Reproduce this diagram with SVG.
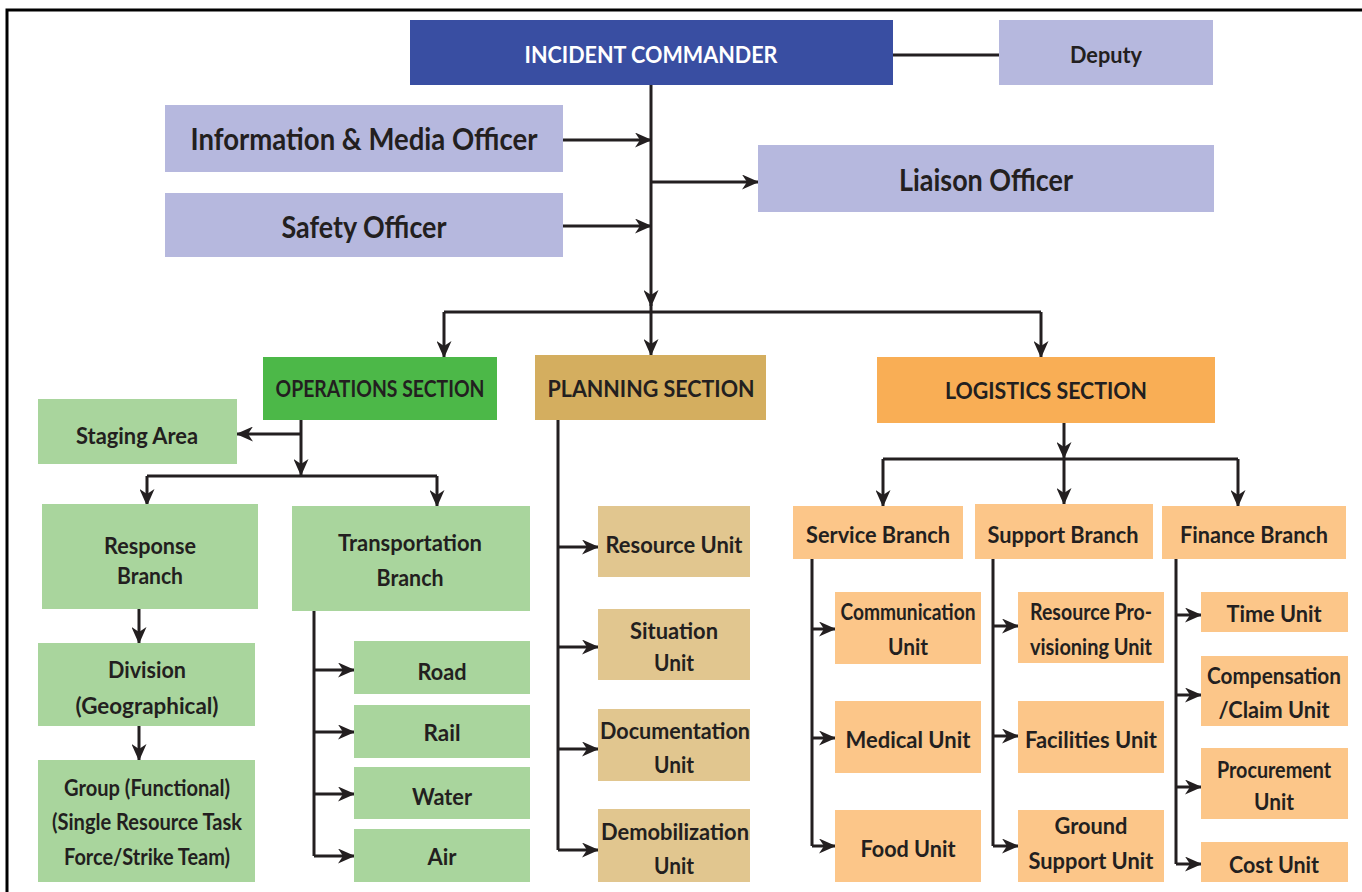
<svg xmlns="http://www.w3.org/2000/svg" width="1362" height="892" viewBox="0 0 1362 892">
<defs>
<marker id="ah" markerUnits="userSpaceOnUse" markerWidth="17" markerHeight="15" refX="16" refY="7.5" orient="auto">
<path d="M0,0 L17,7.5 L0,15 L5,7.5 z" fill="#231F20"/>
</marker>
<style>
.t{font-family:Lato,"Liberation Sans",sans-serif;fill:#231F20;font-weight:bold;text-anchor:middle}
.w{fill:#FFFFFF}
.f30{font-size:30px}.f24{font-size:23px}.f22{font-size:22px}
.c{fill:none;stroke:#231F20;stroke-width:3}
.ic{fill:#394EA2}.lav{fill:#B6B8DE}
.gs{fill:#4CB848}.gl{fill:#A9D59D}
.ps{fill:#D4AE5F}.pl{fill:#E1C68F}
.os{fill:#F9AE55}.ol{fill:#FCC689}
</style>
</defs>
<rect width="1362" height="892" fill="#FFFFFF"/>
<path d="M7,892 V10 H1362" fill="none" stroke="#000" stroke-width="3"/>

<g id="connectors">
<path class="c" d="M893,55 H999"/>
<path class="c" d="M651,85 V306" marker-end="url(#ah)"/>
<path class="c" d="M563,140 H651" marker-end="url(#ah)"/>
<path class="c" d="M563,226 H651" marker-end="url(#ah)"/>
<path class="c" d="M651,182 H758" marker-end="url(#ah)"/>
<path class="c" d="M444,312 H1041"/>
<path class="c" d="M444,312 V357" marker-end="url(#ah)"/>
<path class="c" d="M651,304 V355" marker-end="url(#ah)"/>
<path class="c" d="M1041,312 V357" marker-end="url(#ah)"/>
<path class="c" d="M301,420 V475" marker-end="url(#ah)"/>
<path class="c" d="M301,434 H237" marker-end="url(#ah)"/>
<path class="c" d="M147,476 H437"/>
<path class="c" d="M147,476 V505" marker-end="url(#ah)"/>
<path class="c" d="M437,476 V506" marker-end="url(#ah)"/>
<path class="c" d="M139,609 V643" marker-end="url(#ah)"/>
<path class="c" d="M139,726 V760" marker-end="url(#ah)"/>
<path class="c" d="M314,611 V856"/>
<path class="c" d="M314,670 H354" marker-end="url(#ah)"/>
<path class="c" d="M314,732 H354" marker-end="url(#ah)"/>
<path class="c" d="M314,794 H354" marker-end="url(#ah)"/>
<path class="c" d="M314,856 H354" marker-end="url(#ah)"/>
<path class="c" d="M558,420 V850"/>
<path class="c" d="M558,547 H598" marker-end="url(#ah)"/>
<path class="c" d="M558,647 H598" marker-end="url(#ah)"/>
<path class="c" d="M558,749 H598" marker-end="url(#ah)"/>
<path class="c" d="M558,850 H598" marker-end="url(#ah)"/>
<path class="c" d="M1064,423 V458" marker-end="url(#ah)"/>
<path class="c" d="M883,459 H1238"/>
<path class="c" d="M883,459 V506" marker-end="url(#ah)"/>
<path class="c" d="M1064,459 V504" marker-end="url(#ah)"/>
<path class="c" d="M1238,459 V506" marker-end="url(#ah)"/>
<path class="c" d="M812,559 V846"/>
<path class="c" d="M812,629 H835" marker-end="url(#ah)"/>
<path class="c" d="M812,738 H835" marker-end="url(#ah)"/>
<path class="c" d="M812,846 H835" marker-end="url(#ah)"/>
<path class="c" d="M993,559 V846"/>
<path class="c" d="M993,626 H1018" marker-end="url(#ah)"/>
<path class="c" d="M993,736 H1018" marker-end="url(#ah)"/>
<path class="c" d="M993,846 H1018" marker-end="url(#ah)"/>
<path class="c" d="M1176,559 V864"/>
<path class="c" d="M1176,615 H1201" marker-end="url(#ah)"/>
<path class="c" d="M1176,695 H1201" marker-end="url(#ah)"/>
<path class="c" d="M1176,787 H1201" marker-end="url(#ah)"/>
<path class="c" d="M1176,864 H1201" marker-end="url(#ah)"/>
</g>

<g id="incident-commander"><rect class="ic" x="410" y="20" width="483" height="65"/><text class="t w f22" x="651" y="63" textLength="253" lengthAdjust="spacingAndGlyphs">INCIDENT COMMANDER</text></g>
<g id="deputy"><rect class="lav" x="999" y="20" width="214" height="65"/><text class="t f24" x="1106" y="63" textLength="72" lengthAdjust="spacingAndGlyphs">Deputy</text></g>
<g id="info-media-officer"><rect class="lav" x="165" y="105" width="398" height="67"/><text class="t f30" x="364" y="150" textLength="347" lengthAdjust="spacingAndGlyphs">Information &amp; Media Officer</text></g>
<g id="safety-officer"><rect class="lav" x="165" y="193" width="398" height="64"/><text class="t f30" x="364" y="238" textLength="165" lengthAdjust="spacingAndGlyphs">Safety Officer</text></g>
<g id="liaison-officer"><rect class="lav" x="758" y="145" width="456" height="67"/><text class="t f30" x="986" y="191" textLength="174" lengthAdjust="spacingAndGlyphs">Liaison Officer</text></g>

<g id="operations-section"><rect class="gs" x="263" y="357" width="234" height="63"/><text class="t f22" x="380" y="397" textLength="209" lengthAdjust="spacingAndGlyphs">OPERATIONS SECTION</text></g>
<g id="planning-section"><rect class="ps" x="535" y="355" width="231" height="65"/><text class="t f22" x="651" y="397" textLength="207" lengthAdjust="spacingAndGlyphs">PLANNING SECTION</text></g>
<g id="logistics-section"><rect class="os" x="877" y="357" width="338" height="66"/><text class="t f22" x="1046" y="399" textLength="202" lengthAdjust="spacingAndGlyphs">LOGISTICS SECTION</text></g>

<g id="staging-area"><rect class="gl" x="38" y="399" width="199" height="65"/><text class="t f24" x="137" y="444" textLength="122" lengthAdjust="spacingAndGlyphs">Staging Area</text></g>
<g id="response-branch"><rect class="gl" x="42" y="504" width="216" height="105"/><text class="t f24" x="150" y="554" textLength="92" lengthAdjust="spacingAndGlyphs">Response</text><text class="t f24" x="150" y="584" textLength="66" lengthAdjust="spacingAndGlyphs">Branch</text></g>
<g id="transportation-branch"><rect class="gl" x="292" y="506" width="238" height="105"/><text class="t f24" x="410" y="551" textLength="144" lengthAdjust="spacingAndGlyphs">Transportation</text><text class="t f24" x="410" y="586" textLength="67" lengthAdjust="spacingAndGlyphs">Branch</text></g>
<g id="division"><rect class="gl" x="38" y="643" width="217" height="83"/><text class="t f24" x="147" y="678" textLength="78" lengthAdjust="spacingAndGlyphs">Division</text><text class="t f24" x="147" y="714" textLength="143" lengthAdjust="spacingAndGlyphs">(Geographical)</text></g>
<g id="group"><rect class="gl" x="38" y="760" width="217" height="122"/><text class="t f24" x="147" y="796" textLength="166" lengthAdjust="spacingAndGlyphs">Group (Functional)</text><text class="t f24" x="147" y="830" textLength="190" lengthAdjust="spacingAndGlyphs">(Single Resource Task</text><text class="t f24" x="147" y="865" textLength="166" lengthAdjust="spacingAndGlyphs">Force/Strike Team)</text></g>
<g id="road"><rect class="gl" x="354" y="641" width="176" height="53"/><text class="t f24" x="442" y="680" textLength="49" lengthAdjust="spacingAndGlyphs">Road</text></g>
<g id="rail"><rect class="gl" x="354" y="705" width="176" height="53"/><text class="t f24" x="442" y="741" textLength="37" lengthAdjust="spacingAndGlyphs">Rail</text></g>
<g id="water"><rect class="gl" x="354" y="767" width="176" height="52"/><text class="t f24" x="442" y="805" textLength="60" lengthAdjust="spacingAndGlyphs">Water</text></g>
<g id="air"><rect class="gl" x="354" y="829" width="176" height="53"/><text class="t f24" x="442" y="865" textLength="29" lengthAdjust="spacingAndGlyphs">Air</text></g>

<g id="resource-unit"><rect class="pl" x="598" y="506" width="152" height="71"/><text class="t f24" x="674" y="553" textLength="137" lengthAdjust="spacingAndGlyphs">Resource Unit</text></g>
<g id="situation-unit"><rect class="pl" x="598" y="609" width="152" height="71"/><text class="t f24" x="674" y="639" textLength="88" lengthAdjust="spacingAndGlyphs">Situation</text><text class="t f24" x="674" y="671" textLength="40" lengthAdjust="spacingAndGlyphs">Unit</text></g>
<g id="documentation-unit"><rect class="pl" x="598" y="709" width="152" height="72"/><text class="t f24" x="675" y="739" textLength="150" lengthAdjust="spacingAndGlyphs">Documentation</text><text class="t f24" x="674" y="773" textLength="40" lengthAdjust="spacingAndGlyphs">Unit</text></g>
<g id="demobilization-unit"><rect class="pl" x="598" y="809" width="152" height="73"/><text class="t f24" x="675" y="840" textLength="148" lengthAdjust="spacingAndGlyphs">Demobilization</text><text class="t f24" x="674" y="874" textLength="40" lengthAdjust="spacingAndGlyphs">Unit</text></g>

<g id="service-branch"><rect class="ol" x="793" y="506" width="170" height="53"/><text class="t f24" x="878" y="543" textLength="144" lengthAdjust="spacingAndGlyphs">Service Branch</text></g>
<g id="support-branch"><rect class="ol" x="975" y="504" width="178" height="55"/><text class="t f24" x="1063" y="543" textLength="151" lengthAdjust="spacingAndGlyphs">Support Branch</text></g>
<g id="finance-branch"><rect class="ol" x="1162" y="506" width="184" height="53"/><text class="t f24" x="1254" y="543" textLength="148" lengthAdjust="spacingAndGlyphs">Finance Branch</text></g>

<g id="communication-unit"><rect class="ol" x="835" y="592" width="146" height="72"/><text class="t f24" x="908" y="620" textLength="135" lengthAdjust="spacingAndGlyphs">Communication</text><text class="t f24" x="908" y="655" textLength="40" lengthAdjust="spacingAndGlyphs">Unit</text></g>
<g id="medical-unit"><rect class="ol" x="835" y="701" width="146" height="72"/><text class="t f24" x="908" y="748" textLength="125" lengthAdjust="spacingAndGlyphs">Medical Unit</text></g>
<g id="food-unit"><rect class="ol" x="835" y="810" width="146" height="72"/><text class="t f24" x="908" y="857" textLength="95" lengthAdjust="spacingAndGlyphs">Food Unit</text></g>

<g id="resource-provisioning-unit"><rect class="ol" x="1018" y="592" width="146" height="71"/><text class="t f24" x="1091" y="620" textLength="122" lengthAdjust="spacingAndGlyphs">Resource Pro-</text><text class="t f24" x="1091" y="655" textLength="122" lengthAdjust="spacingAndGlyphs">visioning Unit</text></g>
<g id="facilities-unit"><rect class="ol" x="1018" y="701" width="146" height="72"/><text class="t f24" x="1091" y="748" textLength="132" lengthAdjust="spacingAndGlyphs">Facilities Unit</text></g>
<g id="ground-support-unit"><rect class="ol" x="1018" y="810" width="146" height="72"/><text class="t f24" x="1091" y="834" textLength="73" lengthAdjust="spacingAndGlyphs">Ground</text><text class="t f24" x="1091" y="869" textLength="125" lengthAdjust="spacingAndGlyphs">Support Unit</text></g>

<g id="time-unit"><rect class="ol" x="1201" y="592" width="147" height="40"/><text class="t f24" x="1274" y="622" textLength="95" lengthAdjust="spacingAndGlyphs">Time Unit</text></g>
<g id="compensation-claim-unit"><rect class="ol" x="1201" y="656" width="147" height="70"/><text class="t f24" x="1274" y="684" textLength="134" lengthAdjust="spacingAndGlyphs">Compensation</text><text class="t f24" x="1274" y="718" textLength="111" lengthAdjust="spacingAndGlyphs">/Claim Unit</text></g>
<g id="procurement-unit"><rect class="ol" x="1201" y="748" width="147" height="71"/><text class="t f24" x="1274" y="778" textLength="114" lengthAdjust="spacingAndGlyphs">Procurement</text><text class="t f24" x="1274" y="810" textLength="40" lengthAdjust="spacingAndGlyphs">Unit</text></g>
<g id="cost-unit"><rect class="ol" x="1201" y="842" width="147" height="40"/><text class="t f24" x="1274" y="873" textLength="90" lengthAdjust="spacingAndGlyphs">Cost Unit</text></g>
</svg>
